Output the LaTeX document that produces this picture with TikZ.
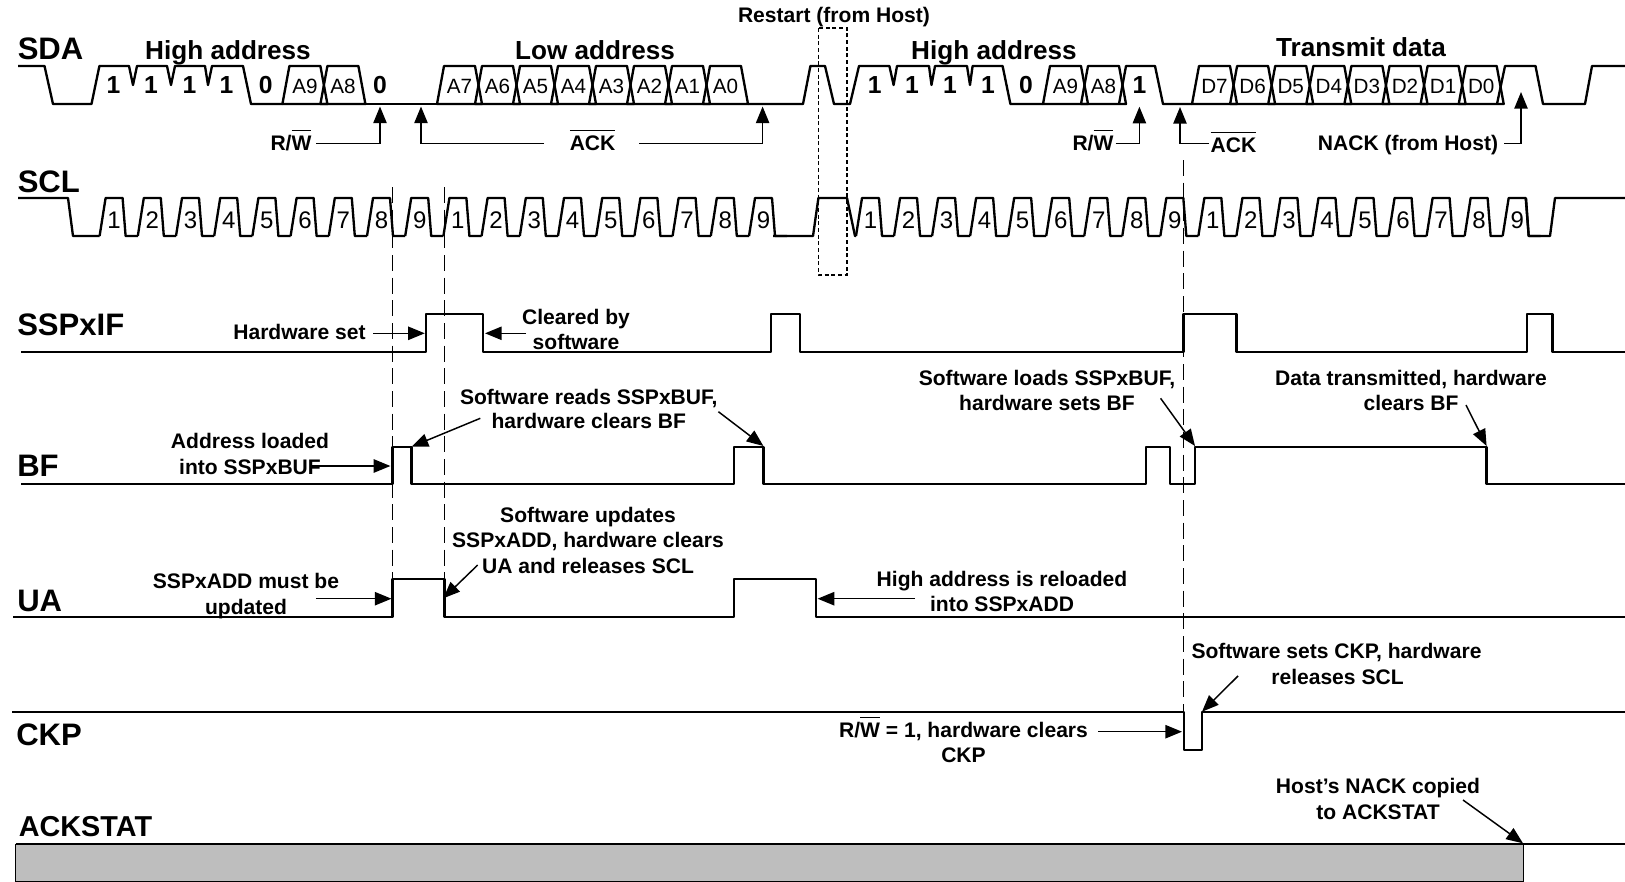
\documentclass[tikz,border=0pt]{standalone}
\usepackage{fontspec}
\setmainfont{Liberation Sans}
\usetikzlibrary{arrows.meta}
\newcommand\ovl[1]{\leavevmode\vbox{\hrule height 1.1pt\kern 3.6pt\hbox{#1}}}
\newcommand\fs[1]{\fontsize{#1}{#1}\selectfont}
\tikzset{
  wave/.style={line width=1.75pt,line join=round,line cap=butt},
  sigl/.style={anchor=base west,inner sep=0pt,font=\fs{23.3}\bfseries},
  head/.style={anchor=base,inner sep=0pt,font=\fs{19.6}\bfseries},
  note/.style={anchor=base,inner sep=0pt,font=\fs{15.8}\bfseries},
  bitb/.style={anchor=base,inner sep=0pt,font=\fs{18.5}\bfseries},
  bitr/.style={anchor=base,inner sep=0pt,font=\fs{15.5}},
  clk/.style={anchor=base,inner sep=0pt,font=\fs{18}},
  arr/.style={line width=1.1pt,-{Triangle[length=12.5pt,width=10pt]}},
  guide/.style={line width=0.9pt,dash pattern=on 12pt off 5pt},
  box/.style={line width=1.3pt,dash pattern=on 3pt off 2pt},
  cell/.style={wave}
}
\begin{document}
\begin{tikzpicture}[x=0.75pt,y=-0.75pt]
\path[use as bounding box] (0,0) rectangle (1625,882);
% ACKSTAT fill
\path[fill=black!25.5,draw=black,line width=0.6pt] (15.5,844.3) rectangle (1523,881);
\coordinate (gA1) at (392.6,187); \coordinate (gA2) at (392.6,617);
\coordinate (gB1) at (444.4,187); \coordinate (gB2) at (444.4,617);
\coordinate (gC1) at (1183.4,160); \coordinate (gC2) at (1183.4,712);
\draw[guide] (gA1) -- (gA2);
\draw[guide] (gB1) -- (gB2);
\draw[guide] (gC1) -- (gC2);
% SDA
\draw[wave] (18,66)--(44.5,66)--(53,104)--(91.5,104)--(99.4,66)--(129,66)--(133,85)--(137,66)--(167,66)--(171,85)--(175,66)--(205,66)--(208,85)--(212,66)--(243,66)--(251,104)--(282.4,104);
\draw[wave] (365,104)--(437,104);
\draw[wave] (748,104)--(803,104)--(810.4,66)--(825,66)--(834,104)--(850,104)--(859,66)--(889.4,66)--(893.6,85)--(897,66)--(929,66)--(931.5,85)--(935,66)--(967,66)--(970,85)--(972.6,66)--(1002.6,66)--(1010.4,104)--(1043,104);
\draw[wave] (1119,104)--(1126,66)--(1155,66)--(1163,104)--(1192,104);
\draw[wave] (1497,104)--(1505,66)--(1535.5,66)--(1543,104)--(1585,104)--(1592,66)--(1625,66);
\foreach \n/\x/\t in {a/282.4/A9,b/320.4/A8,c/437/A7,d/475/A6,e/513/A5,f/551/A4,g/589/A3,h/627/A2,i/665/A1,j/703/A0,k/1043/A9,l/1081/A8,
  m/1192/D7,n/1230.1/D6,o/1268.2/D5,p/1306.3/D4,q/1344.4/D3,r/1382.5/D2,s/1420.6/D1,t/1458.7/D0}{
  \draw[cell] (\x,104)--(\x+7,66)--(\x+38,66)--(\x+45,104)--cycle;
  \node[bitr] (cell\n) at (\x+22.5,93) {\t};
}
\foreach \n/\x/\t in {a/113.5/1,b/151/1,c/189.4/1,d/226.5/1,e/265.7/0,f/380/0,g/874.7/1,h/912/1,i/950/1,j/988/1,k/1026/0,l/1139.4/1}{
  \node[bitb] (bit\n) at (\x,93.5) {\t};
}
% SCL
\draw[wave] (18,198)--(68,198)--(73,236)--(99.6,236);
\foreach \i [count=\c from 1] in {1,...,9,1,2,3,4,5,6,7,8,9}{
  \pgfmathsetmacro\xa{105.6+(\c-1)*38.2}
  \draw[wave] (\xa-6,236)--(\xa,198)--(\xa+17,198)--(\xa+20,236)--(\xa+32.2,236);
  \node[clk] (clka\c) at (\xa+8.5,228.5) {\i};
}
\draw[wave] (773,236)--(813,236)--(818.4,198)--(847,198)--(855,236)--(856,236);
\foreach \i [count=\c from 1] in {1,...,9,1,2,3,4,5,6,7,8,9}{
  \pgfmathsetmacro\xa{862+(\c-1)*38.04}
  \draw[wave] (\xa-6,236)--(\xa,198)--(\xa+17,198)--(\xa+20,236)--(\xa+32.04,236);
  \node[clk] (clkb\c) at (\xa+8.5,228.5) {\i};
}
\draw[wave] (1526,198)--(1528.7,236)--(1550,236)--(1555,198)--(1625,198);
% Restart box
\coordinate (rbA) at (818.4,28); \coordinate (rbB) at (847,275);
\draw[box] (rbA) rectangle (rbB);
% other signals
\draw[wave] (21,352)--(426,352)--(426,314)--(483,314)--(483,352)--(771,352)--(771,314)--(800,314)--(800,352)--(1183.4,352)--(1183.4,314)--(1236.6,314)--(1236.6,352)--(1527,352)--(1527,314)--(1552.5,314)--(1552.5,352)--(1625,352);
\draw[wave] (21,484.3)--(392.6,484.3)--(392.6,446.7)--(411.6,446.7)--(411.6,484.3)--(734,484.3)--(734,446.7)--(763.4,446.7)--(763.4,484.3)--(1146,484.3)--(1146,446.7)--(1170,446.7)--(1170,484.3)--(1195,484.3)--(1195,446.7)--(1486.6,446.7)--(1486.6,484.3)--(1625,484.3);
\draw[wave] (13,617.3)--(392.6,617.3)--(392.6,579.3)--(444.4,579.3)--(444.4,617.3)--(734,617.3)--(734,579.3)--(815.7,579.3)--(815.7,617.3)--(1625,617.3);
\draw[wave] (12.4,711.7)--(1184,711.7)--(1184,750)--(1202,750)--(1202,711.7)--(1625,711.7);
\draw[wave] (15.5,844.3)--(1625,844.3);
% signal names
\node[sigl] (nSDA) at (17.5,59) {SDA};
\node[sigl] (nSCL) at (17.5,192.7) {SCL};
\node[sigl] (nIF) at (17,335.7) {SSPxIF};
\node[sigl] (nBF) at (17,476.7) {BF};
\node[sigl] (nUA) at (17,611.7) {UA};
\node[sigl] (nCKP) at (16,745) {CKP};
\node[sigl,font=\fs{21.6}\bfseries] (nACK) at (18.6,836) {ACKSTAT};
% section heads
\node[head] (hHigh) at (228,59) {High address};
\node[head] (hLow) at (595,59) {Low address};
\node[head] (hHigh2) at (994,59) {High address};
\node[head] (hData) at (1361,56.7) {Transmit data};
\node[note] (tRestart) at (834,22.7) {Restart (from Host)};
% SDA annotations
\node[note] (tRW) at (291,150.7) {R/\ovl{W}};
\node[note] (tACK) at (592.6,150.7) {\ovl{ACK}};
\node[note] (tRW2) at (1093,150.7) {R/\ovl{W}};
\node[note] (tACK2) at (1233.5,152.7) {\ovl{ACK}};
\node[note] (tNACK) at (1408,150) {NACK (from Host)};
\coordinate (rwA) at (316.4,143.3); \coordinate (rwB) at (380,106.5);
\draw[arr] (rwA) -| (rwB);
\coordinate (ackM) at (544,143.3); \coordinate (ackL) at (421,106.5);
\draw[arr] (ackM) -| (ackL);
\coordinate (ackN) at (639,143.3); \coordinate (ackR) at (762.6,106.5);
\draw[arr] (ackN) -| (ackR);
\coordinate (rw2A) at (1115.7,143.3); \coordinate (rw2B) at (1139.4,106.7);
\draw[arr] (rw2A) -| (rw2B);
\coordinate (ack2A) at (1209,143.3); \coordinate (ack2B) at (1180,107);
\draw[arr] (ack2A) -| (ack2B);
\coordinate (nackA) at (1504,143.3); \coordinate (nackB) at (1521,92);
\draw[arr] (nackA) -| (nackB);
% SSPxIF
\node[note] (tHW) at (299.5,339.3) {Hardware set};
\node[note] (tCl1) at (576,324) {Cleared by};
\node[note] (tCl2) at (576,349.3) {software};
\coordinate (hwA) at (373,333.3); \coordinate (hwB) at (424.8,333.3);
\draw[arr] (hwA) -- (hwB);
\coordinate (clA) at (526,333.3); \coordinate (clB) at (485,333.3);
\draw[arr] (clA) -- (clB);
% BF
\node[note] (tAd1) at (250,448.3) {Address loaded};
\node[note] (tAd2) at (250,474) {into SSPxBUF};
\coordinate (adA) at (312,466); \coordinate (adB) at (390.4,466);
\draw[arr] (adA) -- (adB);
\node[note] (tSr1) at (588.8,404) {Software reads SSPxBUF,};
\node[note] (tSr2) at (588.8,428.3) {hardware clears BF};
\coordinate (srA) at (480.3,418.3); \coordinate (srB) at (411.6,446.7);
\draw[arr] (srA) -- (srB);
\coordinate (srC) at (718.4,411.7); \coordinate (srD) at (763.4,446);
\draw[arr] (srC) -- (srD);
\node[note] (tSl1) at (1047,385) {Software loads SSPxBUF,};
\node[note] (tSl2) at (1047,410) {hardware sets BF};
\coordinate (slA) at (1160.6,398.3); \coordinate (slB) at (1195,446);
\draw[arr] (slA) -- (slB);
\node[note] (tDt1) at (1411,385) {Data transmitted, hardware};
\node[note] (tDt2) at (1411,410) {clears BF};
\coordinate (dtA) at (1466,405); \coordinate (dtB) at (1486.6,446);
\draw[arr] (dtA) -- (dtB);
% UA
\node[note] (tUm1) at (246,588.8) {SSPxADD must be};
\node[note] (tUm2) at (246,614.5) {updated};
\coordinate (umA) at (315.8,598.7); \coordinate (umB) at (391.5,598.7);
\draw[arr] (umA) -- (umB);
\node[note] (tSu1) at (588,522.5) {Software updates};
\node[note] (tSu2) at (588,547.5) {SSPxADD, hardware clears};
\node[note] (tSu3) at (588,573.5) {UA and releases SCL};
\coordinate (suA) at (477.7,565); \coordinate (suB) at (443.3,598.3);
\draw[arr] (suA) -- (suB);
\node[note] (tHa1) at (1002,586) {High address is reloaded};
\node[note] (tHa2) at (1002,611) {into SSPxADD};
\coordinate (haA) at (915,598.7); \coordinate (haB) at (817.6,598.7);
\draw[arr] (haA) -- (haB);
% CKP
\node[note] (tCs1) at (1336.5,658.8) {Software sets CKP, hardware};
\node[note] (tCs2) at (1337.5,684.5) {releases SCL};
\coordinate (csA) at (1238,676); \coordinate (csB) at (1202,711.7);
\draw[arr] (csA) -- (csB);
\node[note] (tCc1) at (963.5,737.5) {R/\ovl{W} = 1, hardware clears};
\node[note] (tCc2) at (963.5,762.8) {CKP};
\coordinate (ccA) at (1098,731.7); \coordinate (ccB) at (1182,731.7);
\draw[arr] (ccA) -- (ccB);
% ACKSTAT
\node[note] (tHn1) at (1378,793.5) {Host’s NACK copied};
\node[note] (tHn2) at (1378,819.5) {to ACKSTAT};
\coordinate (hnA) at (1463,800); \coordinate (hnB) at (1523,843.3);
\draw[arr] (hnA) -- (hnB);
\end{tikzpicture}
\end{document}
